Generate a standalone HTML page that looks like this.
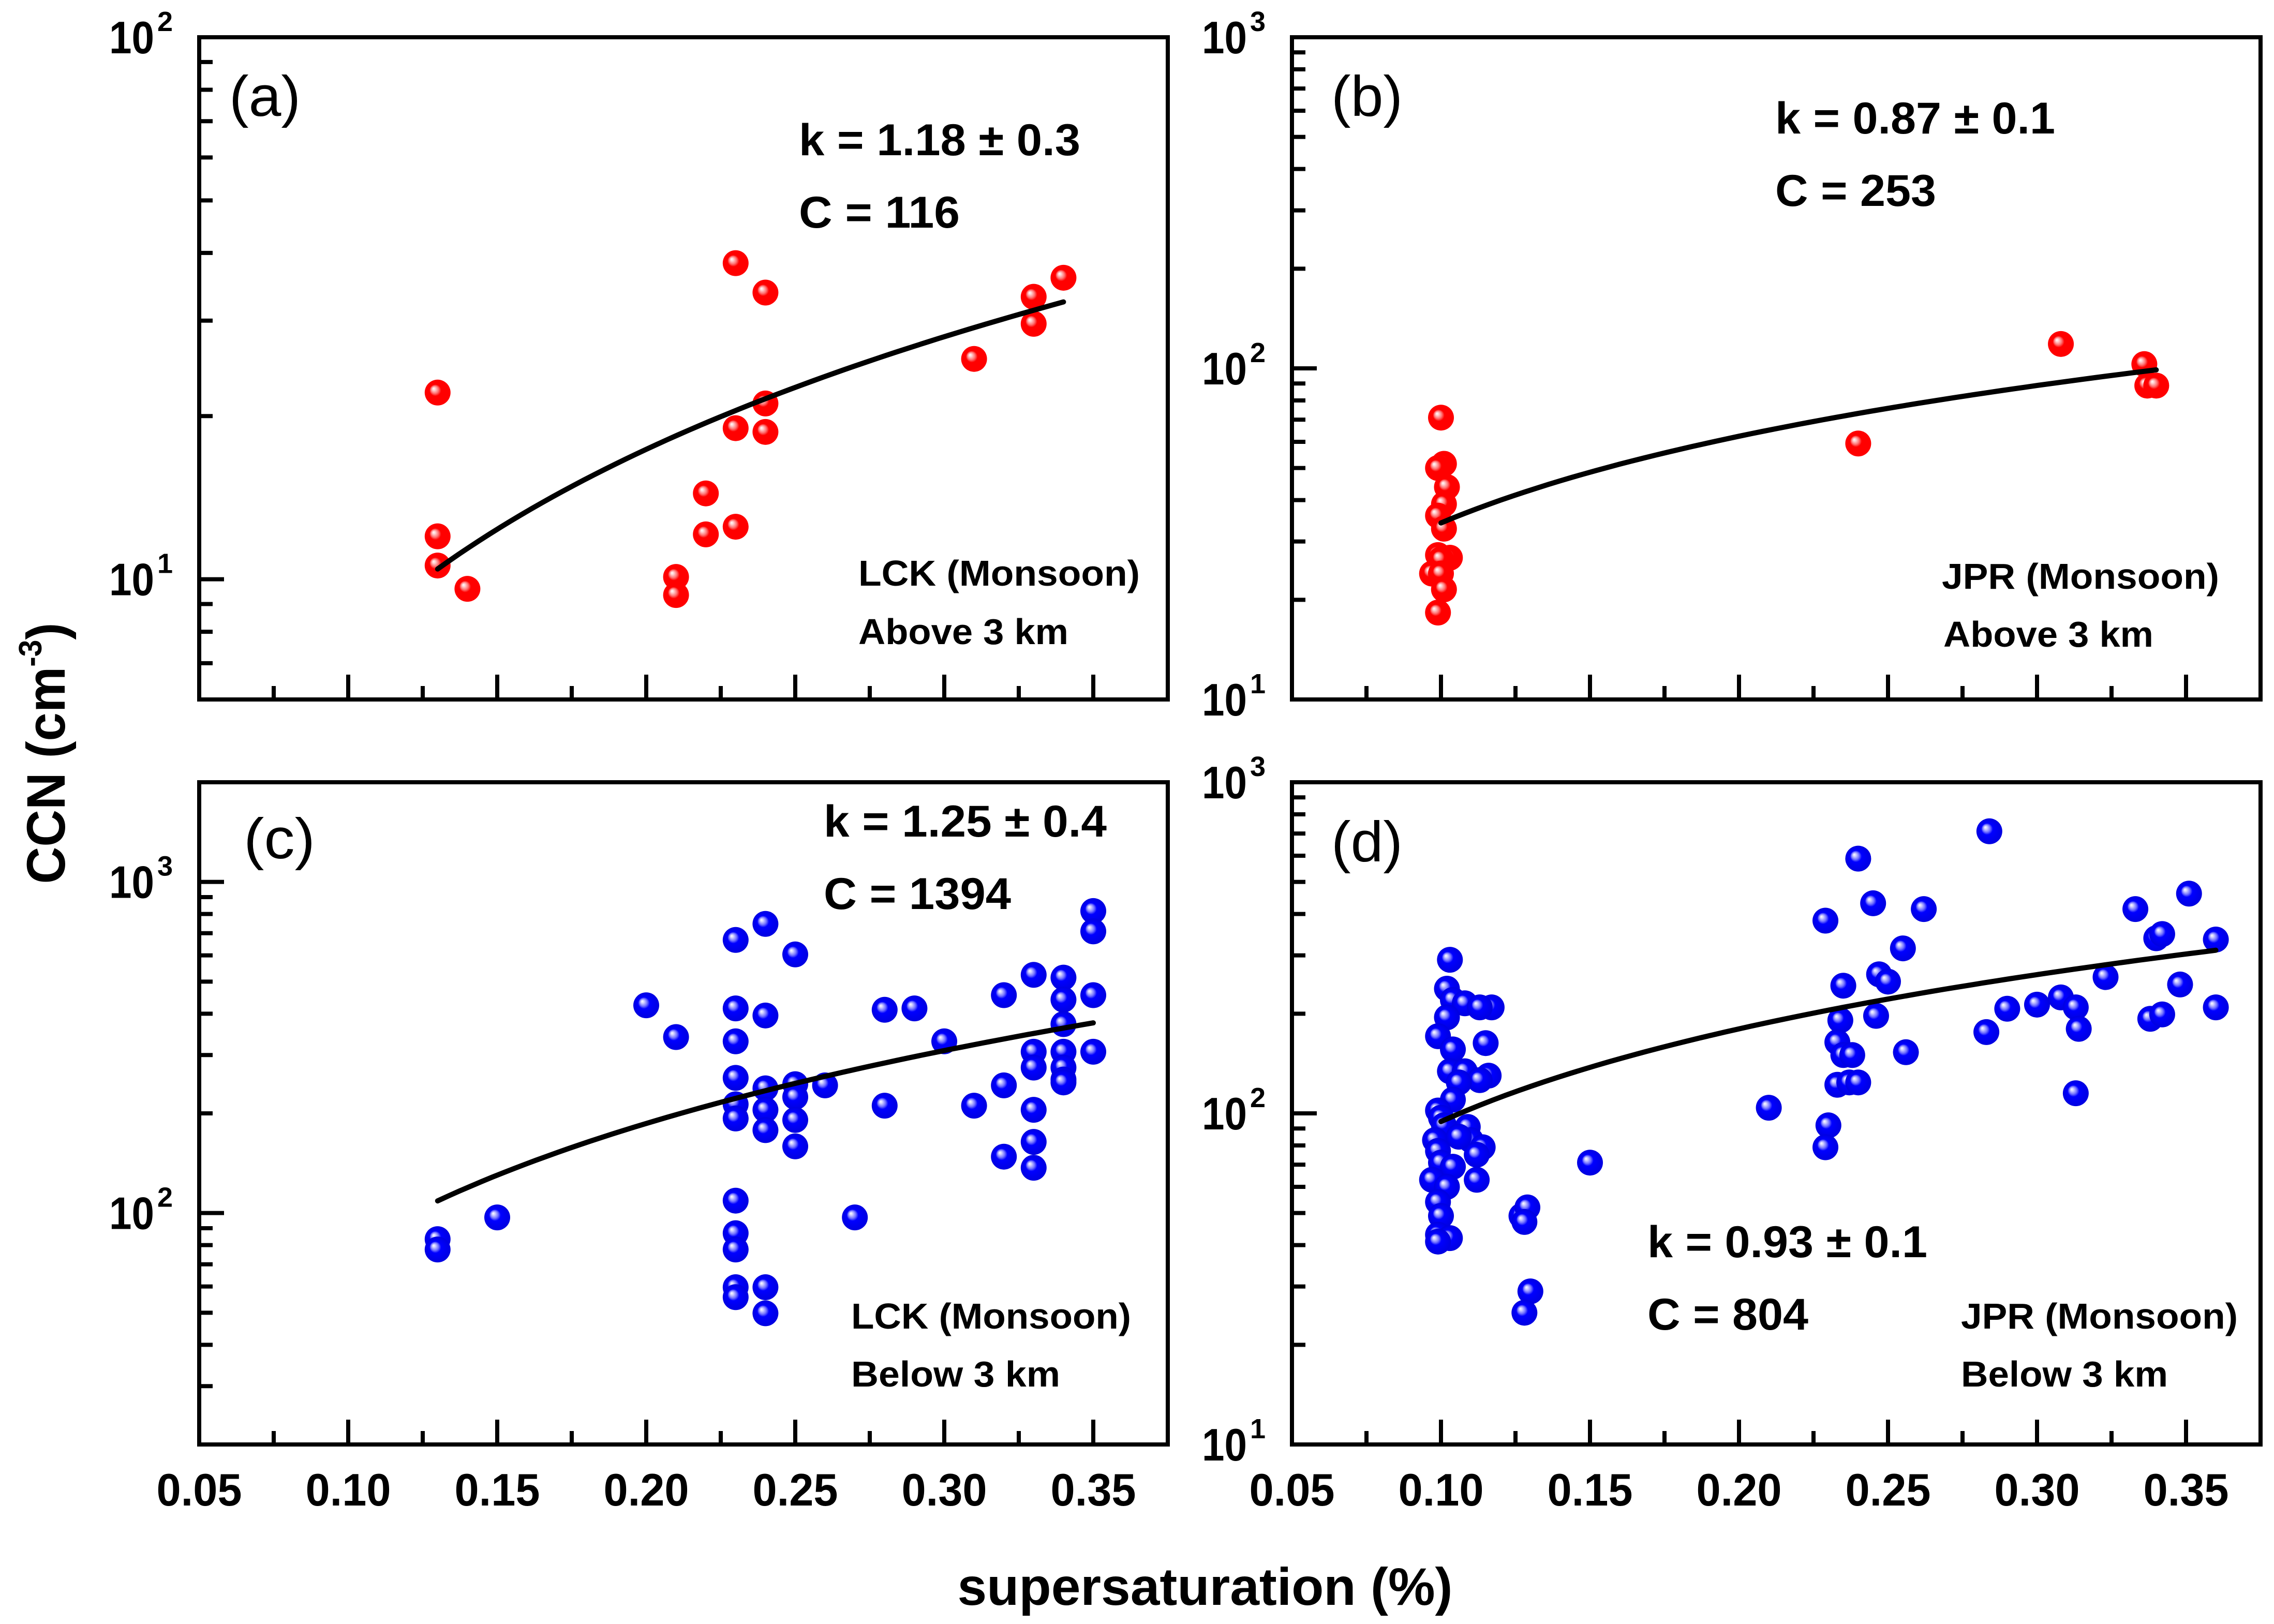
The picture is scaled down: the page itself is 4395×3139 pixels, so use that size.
<!DOCTYPE html>
<html><head><meta charset="utf-8"><style>
html,body{margin:0;padding:0;background:#fff;}
svg{display:block;}
text{font-family:"Liberation Sans",Arial,sans-serif;}
</style></head>
<body>
<svg id="chart" xmlns="http://www.w3.org/2000/svg" width="4395" height="3139" viewBox="0 0 4395 3139">
<defs>
<radialGradient id="gRed" cx="0.5" cy="0.5" r="0.5" fx="0.34" fy="0.34">
<stop offset="0" stop-color="#ffffff"/><stop offset="0.12" stop-color="#ffd0d0"/><stop offset="0.3" stop-color="#ff7070"/><stop offset="0.45" stop-color="#ff0000"/><stop offset="1" stop-color="#ff0000"/>
</radialGradient>
<radialGradient id="gBlue" cx="0.5" cy="0.5" r="0.5" fx="0.34" fy="0.34">
<stop offset="0" stop-color="#ffffff"/><stop offset="0.12" stop-color="#d0d0ff"/><stop offset="0.3" stop-color="#7070ff"/><stop offset="0.45" stop-color="#0000ff"/><stop offset="1" stop-color="#0000e0"/>
</radialGradient>
</defs>
<g id="plots"></g>
<text transform="translate(125,1456) rotate(-90)" text-anchor="middle" font-size="105" font-weight="bold" textLength="505" lengthAdjust="spacingAndGlyphs">CCN (cm<tspan font-size="62" dy="-45">-3</tspan><tspan dy="45">)</tspan></text>
<text x="2329" y="3102" text-anchor="middle" font-size="102" font-weight="bold" textLength="957" lengthAdjust="spacingAndGlyphs">supersaturation (%)</text>
</svg>
<script>
// ---- Panel (a) data: LCK Monsoon above 3 km ----
const aX = [0.13,0.13,0.13,0.14,0.21,0.21,0.22,0.22,0.23,0.23,0.23,0.24,0.24,0.24,0.31,0.33,0.33,0.34];
const aY = [22.1,12.0,10.6,9.6,10.1,9.35,12.1,14.4,12.5,19,38.3,33.8,21.1,18.7,25.5,29.6,33.2,36.0];
const aFit = [116,1.18]; // C, k
// ---- Panel (b) data: JPR Monsoon above 3 km ----
const bX = [0.1,0.101,0.099,0.102,0.101,0.099,0.101,0.099,0.103,0.1,0.097,0.1,0.101,0.099,0.24,0.308,0.336,0.337,0.34];
const bY = [71,51.5,50,43.8,38.9,35.9,32.8,27.3,26.8,26.5,24,24,21.5,18.3,59.3,118.5,103,88.7,88.7];
const bFit = [253,0.87];
// ---- Panel (c) data: LCK Monsoon below 3 km ----
const cX = [0.13,0.13,0.15,0.20,0.21,
 0.23,0.23,0.23,0.23,0.23,0.23,0.23,0.23,0.23,0.23,0.23,
 0.24,0.24,0.24,0.24,0.24,0.24,0.24,
 0.25,0.25,0.25,0.25,0.25,0.26,0.27,0.28,0.28,0.29,0.30,0.31,
 0.32,0.32,0.32,0.33,0.33,0.33,0.33,0.33,0.33,
 0.34,0.34,0.34,0.34,0.34,0.34,0.34,0.35,0.35,0.35,0.35];
const cY = [83.4,77.6,97,424,340,
 668,415,330,256,213,193,109,86.9,77.6,59.7,55.7,
 747,395,238,205,178,59.7,49.8,
 604,245,224,191,159,243,97,411,211,415,330,211,
 455,243,148,524,307,275,205,164,137,
 514,441,372,307,275,253,248,817,709,455,307];
const cFit = [1394,1.25];
// ---- Panel (d) data: JPR Monsoon below 3 km ----
const dX = [0.103,0.102,0.104,0.108,0.117,0.113,0.102,0.099,0.115,0.104,0.103,0.108,0.116,0.113,0.106,0.104,0.099,0.10,0.101,0.109,0.110,0.098,0.106,0.114,0.112,0.099,0.100,0.104,0.097,0.112,0.102,0.099,0.100,0.099,0.103,0.099,
 0.127,0.129,0.128,0.13,0.128,0.15,0.21,0.23,0.229,0.229,0.235,0.234,0.233,0.235,0.238,0.233,0.237,0.24,0.24,0.245,0.247,0.25,0.246,0.255,0.262,0.256,0.284,0.283,0.29,0.30,0.308,0.313,0.314,0.313,0.323,0.333,0.34,0.342,0.338,0.342,0.348,0.351,0.36,0.36];
const dY = [291,238,220,215,209,209,195,171,163,156,134,134,130,126,124,110,102,97,92,91,83,83,85,79,75,77,71,69,63,63,60,54,49,43,42,41,
 49,52,47,29,25,71,104,92,79,382,243,191,164,150,150,122,124,124,588,431,263,250,197,315,414,153,711,176,207,213,224,209,180,115,258,414,338,348,193,199,245,461,335,209];
const dFit = [804,0.93];

const xTickLabels = ["0.05","0.10","0.15","0.20","0.25","0.30","0.35"];
const xTickVals = [0.05,0.10,0.15,0.20,0.25,0.30,0.35];

const NS = "http://www.w3.org/2000/svg";
const root = document.getElementById("plots");
function mk(tag, attrs, parent){const e=document.createElementNS(NS,tag);for(const k in attrs)e.setAttribute(k,attrs[k]);(parent||root).appendChild(e);return e;}

const panels = [
 {id:"a",L:385,T:72,yMin:6,yMax:100,xs:aX,ys:aY,fit:aFit,fx:[0.13,0.34],grad:"gRed",showX:false,
  lab:["(a)",443,224],k:["k = 1.18 ± 0.3",1544,300,544],c:["C = 116",1544,440,311],s1:["LCK (Monsoon)",1659,1132,544],s2:["Above 3 km",1659,1245,406]},
 {id:"b",L:2497,T:72,yMin:10,yMax:1000,xs:bX,ys:bY,fit:bFit,fx:[0.10,0.34],grad:"gRed",showX:false,
  lab:["(b)",2573,224],k:["k = 0.87 ± 0.1",3431,258,541],c:["C = 253",3431,398,311],s1:["JPR (Monsoon)",3753,1138,536],s2:["Above 3 km",3756,1250,406]},
 {id:"c",L:385,T:1512,yMin:20,yMax:2000,xs:cX,ys:cY,fit:cFit,fx:[0.13,0.35],grad:"gBlue",showX:true,
  lab:["(c)",471,1659],k:["k = 1.25 ± 0.4",1592,1617,547],c:["C = 1394",1592,1757,362],s1:["LCK (Monsoon)",1645,2568,541],s2:["Below 3 km",1645,2680,404]},
 {id:"d",L:2497,T:1512,yMin:10,yMax:1000,xs:dX,ys:dY,fit:dFit,fx:[0.10,0.36],grad:"gBlue",showX:true,
  lab:["(d)",2573,1665],k:["k = 0.93 ± 0.1",3184,2430,541],c:["C = 804",3184,2570,311],s1:["JPR (Monsoon)",3790,2568,535],s2:["Below 3 km",3790,2680,400]}
];
const W=1872,H=1280,X0=0.05,X1=0.375;

panels.forEach(p=>{
 const g=mk("g",{});
 
 
 const sx=v=>p.L+(v-X0)/(X1-X0)*W;
 const ly0=Math.log10(p.yMin),ly1=Math.log10(p.yMax);
 const sy=v=>p.T+H-(Math.log10(v)-ly0)/(ly1-ly0)*H;
 const B=p.T+H;
 for(let i=0;i<=13;i++){
  const v=0.05+i*0.025; const x=sx(v); if(x>p.L+W-5) continue;
  const major=i%2===0;
  const t=mk("line",{x1:x,x2:x,y1:B,y2:B-(major?48:26),stroke:"#000","stroke-width":8},g);
  
  
 }
 if(p.showX){
  xTickVals.forEach((v,i)=>{
   const t=mk("text",{x:sx(v),y:2910,"text-anchor":"middle","font-size":88,"font-weight":"bold",textLength:165,lengthAdjust:"spacingAndGlyphs"},g);
   t.textContent=xTickLabels[i];
   
   
  });
 }
 for(let e=0;e<=3;e++){
  for(let m=1;m<=9;m++){
   const v=m*Math.pow(10,e);
   if(v<p.yMin-1e-9||v>p.yMax+1e-9) continue;
   const y=sy(v);
   const t=mk("line",{x1:p.L,x2:p.L+(m===1?48:26),y1:y,y2:y,stroke:"#000","stroke-width":8},g);
   
   
   if(m===1){
    const tl=mk("text",{x:p.L-87,y:y+31,"text-anchor":"end","font-size":88,"font-weight":"bold",textLength:87,lengthAdjust:"spacingAndGlyphs"},g);
    tl.textContent="10";
    
    
    const sp=mk("text",{x:p.L-81,y:y-12,"font-size":54,"font-weight":"bold"},g);
    sp.textContent=String(e);
    
    
   }
  }
 }
 p.xs.forEach((xv,i)=>{
  const c=mk("circle",{cx:sx(xv),cy:sy(p.ys[i]),r:25,fill:"url(#"+p.grad+")"},g);
  
  
 });
 let d="";
 for(let i=0;i<=60;i++){
  const s=p.fx[0]+(p.fx[1]-p.fx[0])*i/60;
  const v=p.fit[0]*Math.pow(s,p.fit[1]);
  d+=(i?"L":"M")+sx(s).toFixed(1)+","+sy(v).toFixed(1);
 }
 const fc=mk("path",{d:d,fill:"none",stroke:"#000","stroke-width":10,"stroke-linecap":"round"},g);
 
 
 const fr=mk("rect",{x:p.L,y:p.T,width:W,height:H,fill:"none",stroke:"#000","stroke-width":8},g);
 
 
 const lb=mk("text",{x:p.lab[1],y:p.lab[2],"font-size":110,textLength:138,lengthAdjust:"spacingAndGlyphs"},g);
 lb.textContent=p.lab[0];
 
 
 [[p.k,86,'k-annotation'],[p.c,86,'c-annotation'],[p.s1,70,'site-label'],[p.s2,70,'altitude-label']].forEach(([a,fs,nm])=>{
  const t=mk("text",{x:a[1],y:a[2],"font-size":fs,"font-weight":"bold",textLength:a[3],lengthAdjust:"spacingAndGlyphs"},g);
  t.textContent=a[0];
  
  
 });
});
</script>
</body></html>
